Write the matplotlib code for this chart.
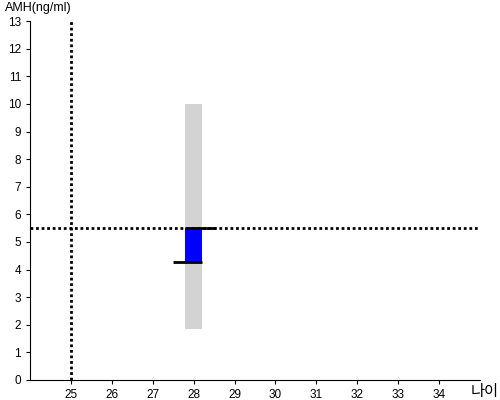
import matplotlib
matplotlib.use("Agg")
import matplotlib.pyplot as plt

plt.rcParams['font.family'] = ['Liberation Sans', 'Noto Sans CJK KR', 'DejaVu Sans']

age = 28
range_low, range_high = 1.85, 10.0
value_low, value_high = 4.28, 5.5
ref_age = 25
ref_amh = 5.5
xticks = list(range(25, 35))
yticks = list(range(0, 14))

fig = plt.figure(figsize=(5, 4), dpi=100)
ax = fig.add_axes([0.06, 0.05, 0.90, 0.897])
ax.set_xlim(24, 35)
ax.set_ylim(0, 13)

ax.bar([age], [range_high - range_low], bottom=[range_low], width=0.4, color='#d3d3d3', zorder=1)
ax.bar([age], [value_high - value_low], bottom=[value_low], width=0.4, color='#0000ff', zorder=2)
ax.hlines(value_high, age - 0.2, age + 0.55, color='black', lw=2, zorder=3)
ax.hlines(value_low, age - 0.5, age + 0.2, color='black', lw=2, zorder=3)

ax.axhline(ref_amh, color='black', lw=2, ls=(0, (1, 1)), zorder=2.5)
ax.axvline(ref_age, color='black', lw=2, ls=(0, (1, 1)), zorder=2.5)

ax.set_xticks(xticks)
ax.set_yticks(yticks)
ax.tick_params(labelsize=8.5, length=3, direction='out')
for s in ['top', 'right']:
    ax.spines[s].set_visible(False)

fig.text(0.01, 0.965, 'AMH(ng/ml)', fontsize=9, ha='left', va='bottom')
fig.text(0.97, 0.02, '나이', fontsize=11, ha='center', va='center')

fig.savefig('out.png', dpi=100)
